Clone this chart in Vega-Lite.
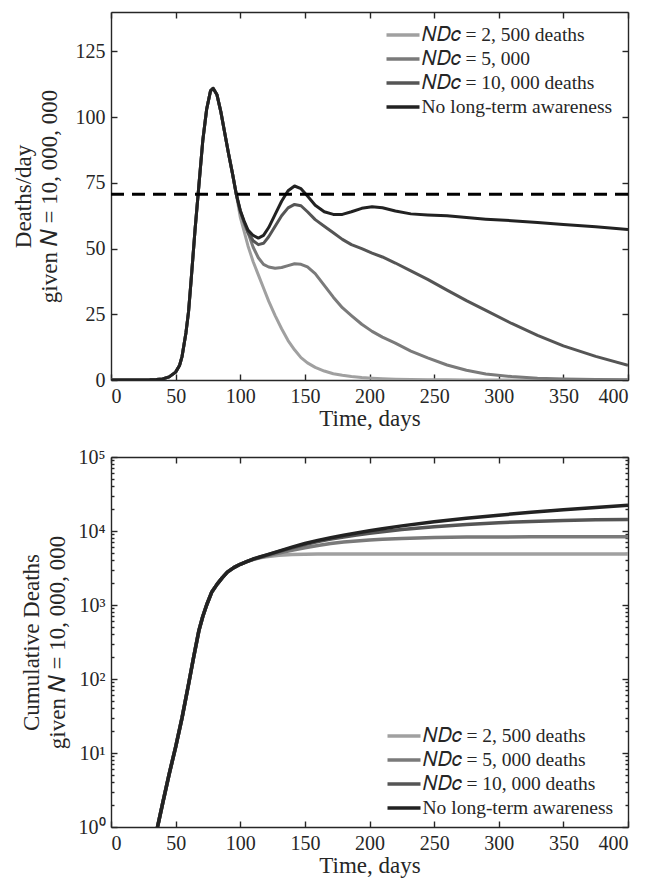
{
  "$schema": "https://vega.github.io/schema/vega-lite/v6.json",
  "background": "white",
  "padding": {"left": 12, "top": 11, "right": 4, "bottom": 5},
  "datasets": {
    "daily": [
      {"t":0,"a":0,"b":0,"c":0,"d":0},
      {"t":10,"a":0,"b":0,"c":0,"d":0},
      {"t":20,"a":0,"b":0,"c":0,"d":0},
      {"t":30,"a":0.05,"b":0.05,"c":0.05,"d":0.05},
      {"t":35,"a":0.15,"b":0.15,"c":0.15,"d":0.15},
      {"t":40,"a":0.4,"b":0.4,"c":0.4,"d":0.4},
      {"t":45,"a":1.2,"b":1.2,"c":1.2,"d":1.2},
      {"t":50,"a":3,"b":3,"c":3,"d":3},
      {"t":53,"a":5.5,"b":5.5,"c":5.5,"d":5.5},
      {"t":55,"a":9,"b":9,"c":9,"d":9},
      {"t":58,"a":18,"b":18,"c":18,"d":18},
      {"t":60,"a":26,"b":26,"c":26,"d":26},
      {"t":62,"a":38,"b":38,"c":38,"d":38},
      {"t":65,"a":57,"b":57,"c":57,"d":57},
      {"t":68,"a":74,"b":74,"c":74,"d":74},
      {"t":71,"a":91,"b":91,"c":91,"d":91},
      {"t":74,"a":103,"b":103,"c":103,"d":103},
      {"t":77,"a":110,"b":110,"c":110,"d":110},
      {"t":79,"a":111,"b":111,"c":111,"d":111},
      {"t":82,"a":108.5,"b":108.5,"c":108.5,"d":108.5},
      {"t":85,"a":102,"b":102,"c":102,"d":102},
      {"t":88,"a":94,"b":94,"c":94,"d":94},
      {"t":91,"a":86,"b":86,"c":86,"d":86},
      {"t":94,"a":78.5,"b":78.5,"c":78.5,"d":78.5},
      {"t":97,"a":70.5,"b":70.5,"c":70.5,"d":70.5},
      {"t":100,"a":62,"b":64,"c":64.5,"d":64.5},
      {"t":103,"a":56.5,"b":60,"c":60,"d":60.5},
      {"t":106,"a":51,"b":56,"c":56,"d":57},
      {"t":110,"a":45,"b":50.5,"c":53,"d":55},
      {"t":114,"a":40,"b":46.5,"c":51.5,"d":54},
      {"t":118,"a":35,"b":44,"c":52,"d":55},
      {"t":122,"a":30,"b":43,"c":54.5,"d":58},
      {"t":127,"a":24.5,"b":42.5,"c":58.5,"d":63},
      {"t":132,"a":19.5,"b":42.8,"c":62.5,"d":68},
      {"t":137,"a":15,"b":43.5,"c":65.5,"d":72},
      {"t":142,"a":11.5,"b":44.2,"c":66.8,"d":73.8},
      {"t":147,"a":8.5,"b":44,"c":66.3,"d":72.8},
      {"t":152,"a":6.5,"b":43,"c":64,"d":70},
      {"t":158,"a":4.8,"b":40.5,"c":61,"d":66.5},
      {"t":165,"a":3.4,"b":36,"c":58.5,"d":64},
      {"t":172,"a":2.4,"b":31.5,"c":56,"d":63},
      {"t":179,"a":1.8,"b":27.5,"c":53.5,"d":63},
      {"t":186,"a":1.3,"b":24.5,"c":51.5,"d":64},
      {"t":194,"a":0.95,"b":21.2,"c":50,"d":65.3},
      {"t":202,"a":0.7,"b":18.5,"c":48.3,"d":65.9},
      {"t":210,"a":0.5,"b":16.3,"c":46.8,"d":65.5},
      {"t":220,"a":0.3,"b":14,"c":44.5,"d":64.3},
      {"t":232,"a":0.18,"b":11,"c":41.5,"d":63.2},
      {"t":245,"a":0.1,"b":8.4,"c":38.3,"d":62.8},
      {"t":260,"a":0.05,"b":5.7,"c":34.2,"d":62.5},
      {"t":275,"a":0.03,"b":3.7,"c":30.2,"d":61.8},
      {"t":290,"a":0.02,"b":2.3,"c":26.5,"d":61.2},
      {"t":310,"a":0.01,"b":1.3,"c":21.5,"d":60.6},
      {"t":330,"a":0,"b":0.7,"c":17,"d":59.9},
      {"t":350,"a":0,"b":0.35,"c":13,"d":59.2},
      {"t":375,"a":0,"b":0.15,"c":9,"d":58.3},
      {"t":400,"a":0,"b":0.05,"c":5.6,"d":57.3}
    ],
    "cum": [
      {"t":34,"a":0.7,"b":0.7,"c":0.7,"d":0.7},
      {"t":36,"a":1,"b":1,"c":1,"d":1},
      {"t":40,"a":2.1,"b":2.1,"c":2.1,"d":2.1},
      {"t":45,"a":5.2,"b":5.2,"c":5.2,"d":5.2},
      {"t":50,"a":12,"b":12,"c":12,"d":12},
      {"t":55,"a":30,"b":30,"c":30,"d":30},
      {"t":60,"a":85,"b":85,"c":85,"d":85},
      {"t":64,"a":200,"b":200,"c":200,"d":200},
      {"t":68,"a":450,"b":450,"c":450,"d":450},
      {"t":71,"a":700,"b":700,"c":700,"d":700},
      {"t":74,"a":1000,"b":1000,"c":1000,"d":1000},
      {"t":78,"a":1500,"b":1500,"c":1500,"d":1500},
      {"t":82,"a":1900,"b":1900,"c":1900,"d":1900},
      {"t":86,"a":2330,"b":2330,"c":2330,"d":2330},
      {"t":90,"a":2780,"b":2780,"c":2780,"d":2780},
      {"t":95,"a":3200,"b":3200,"c":3200,"d":3200},
      {"t":100,"a":3550,"b":3550,"c":3550,"d":3550},
      {"t":105,"a":3850,"b":3850,"c":3850,"d":3850},
      {"t":110,"a":4100,"b":4150,"c":4170,"d":4180},
      {"t":115,"a":4330,"b":4380,"c":4420,"d":4450},
      {"t":120,"a":4500,"b":4600,"c":4700,"d":4730},
      {"t":130,"a":4700,"b":5050,"c":5280,"d":5350},
      {"t":140,"a":4810,"b":5500,"c":5920,"d":6050},
      {"t":150,"a":4860,"b":5950,"c":6580,"d":6780},
      {"t":160,"a":4885,"b":6380,"c":7200,"d":7470},
      {"t":170,"a":4895,"b":6760,"c":7780,"d":8120},
      {"t":180,"a":4900,"b":7080,"c":8310,"d":8760},
      {"t":190,"a":4900,"b":7330,"c":8810,"d":9420},
      {"t":200,"a":4900,"b":7550,"c":9300,"d":10100},
      {"t":210,"a":4900,"b":7730,"c":9770,"d":10750},
      {"t":225,"a":4900,"b":7940,"c":10450,"d":11730},
      {"t":250,"a":4900,"b":8160,"c":11450,"d":13300},
      {"t":275,"a":4900,"b":8270,"c":12280,"d":14850},
      {"t":300,"a":4900,"b":8320,"c":12950,"d":16380},
      {"t":325,"a":4900,"b":8340,"c":13480,"d":17880},
      {"t":350,"a":4900,"b":8350,"c":13880,"d":19370},
      {"t":375,"a":4900,"b":8350,"c":14150,"d":20830},
      {"t":400,"a":4900,"b":8350,"c":14350,"d":22200}
    ],
    "thr": [{"threshold": 70.7}],
    "logticks": [
      {"v":1},{"v":2},{"v":3},{"v":4},{"v":5},{"v":6},{"v":7},{"v":8},{"v":9},
      {"v":10},{"v":20},{"v":30},{"v":40},{"v":50},{"v":60},{"v":70},{"v":80},{"v":90},
      {"v":100},{"v":200},{"v":300},{"v":400},{"v":500},{"v":600},{"v":700},{"v":800},{"v":900},
      {"v":1000},{"v":2000},{"v":3000},{"v":4000},{"v":5000},{"v":6000},{"v":7000},{"v":8000},{"v":9000},
      {"v":10000},{"v":20000},{"v":30000},{"v":40000},{"v":50000},{"v":60000},{"v":70000},{"v":80000},{"v":90000},
      {"v":100000}
    ]
  },
  "config": {
    "font": "Liberation Serif",
    "view": {"stroke": null},
    "style": {"guide-label": {"font": "Liberation Serif"}, "guide-title": {"font": "Liberation Serif"}},
    "axis": {
      "domainColor": "#262626", "domainWidth": 1.4,
      "tickColor": "#262626", "tickWidth": 1.4, "tickSize": -6,
      "labelFont": "Liberation Serif", "labelFontSize": 20, "labelColor": "#262626", "labelPadding": 12,
      "titleFont": "Liberation Serif", "titleFontSize": 23, "titleFontWeight": "normal", "titleColor": "#262626",
      "grid": false
    },
    "legend": {
      "labelFont": "Liberation Serif", "labelFontSize": 19.5, "labelColor": "#262626", "labelLimit": 0,
      "symbolType": "M-1.65,0L1.65,0",
      "symbolSize": 400, "symbolStrokeWidth": 3.5, "rowPadding": 2, "padding": 0,
      "labelOffset": 6.5, "titlePadding": 0
    },
    "concat": {"spacing": 17}
  },
  "resolve": {"scale": {"color": "independent"}, "legend": {"color": "independent"}},
  "vconcat": [
    {
      "width": 517, "height": 368,
      "layer": [
        {
          "data": {"name": "daily"},
          "transform": [{"fold": ["a", "b", "c", "d"], "as": ["series", "v"]}],
          "mark": {"type": "line", "strokeWidth": 3, "strokeJoin": "round", "clip": true},
          "encoding": {
            "x": {"field": "t", "type": "quantitative", "scale": {"domain": [0, 400], "nice": false},
                  "axis": {"values": [0,50,100,150,200,250,300,350,400], "title": "Time, days", "titlePadding": 1}},
            "y": {"field": "v", "type": "quantitative", "scale": {"domain": [0, 140], "nice": false},
                  "axis": {"values": [0,25,50,75,100,125], "title": ["Deaths/day", "given 𝑁 = 10, 000, 000"], "titleLineHeight": 26, "titlePadding": 14}},
            "color": {"field": "series", "type": "nominal",
                      "scale": {"domain": ["a", "b", "c", "d"], "range": ["#a0a0a0", "#7a7a7a", "#555555", "#222222"]},
                      "legend": {"title": null, "orient": "none", "legendX": 280, "legendY": 11,
                                 "labelExpr": "datum.value == 'a' ? '𝑁𝐷𝑐 = 2, 500 deaths' : datum.value == 'b' ? '𝑁𝐷𝑐 = 5, 000' : datum.value == 'c' ? '𝑁𝐷𝑐 = 10, 000 deaths' : 'No long-term awareness'"}}
          }
        },
        {
          "data": {"name": "thr"},
          "mark": {"type": "rule", "strokeDash": [13, 8], "strokeWidth": 3, "color": "#000000"},
          "encoding": {"y": {"field": "threshold", "type": "quantitative", "axis": null}}
        },
        {
          "data": {"name": "daily"},
          "mark": {"type": "point", "opacity": 0},
          "encoding": {
            "x": {"field": "t", "type": "quantitative", "axis": {"orient": "top", "values": [0,50,100,150,200,250,300,350,400], "labels": false, "title": null}},
            "y": {"field": "a", "type": "quantitative", "axis": {"orient": "right", "values": [0,25,50,75,100,125], "labels": false, "title": null}}
          }
        }
      ],
      "resolve": {"axis": {"x": "independent", "y": "independent"}}
    },
    {
      "width": 517, "height": 370,
      "layer": [
        {
          "data": {"name": "cum"},
          "transform": [{"fold": ["a", "b", "c", "d"], "as": ["series", "v"]}],
          "mark": {"type": "line", "strokeWidth": 3.5, "strokeJoin": "round", "clip": true},
          "encoding": {
            "x": {"field": "t", "type": "quantitative", "scale": {"domain": [0, 400], "nice": false},
                  "axis": {"values": [0,50,100,150,200,250,300,350,400], "title": "Time, days", "titlePadding": 1}},
            "y": {"field": "v", "type": "quantitative", "scale": {"type": "log", "domain": [1, 100000], "nice": false},
                  "axis": {"values": [1,2,3,4,5,6,7,8,9,10,20,30,40,50,60,70,80,90,100,200,300,400,500,600,700,800,900,1000,2000,3000,4000,5000,6000,7000,8000,9000,10000,20000,30000,40000,50000,60000,70000,80000,90000,100000],
                           "labelExpr": "abs(log(datum.value)/LN10 - round(log(datum.value)/LN10)) < 0.001 ? '10' + ['⁰','¹','²','³','⁴','⁵'][round(log(datum.value)/LN10)] : ''",
                           "tickSize": {"condition": {"test": "abs(log(datum.value)/LN10 - round(log(datum.value)/LN10)) < 0.001", "value": -6}, "value": -3},
                           "title": ["Cumulative Deaths", "given 𝑁 = 10, 000, 000"], "titleLineHeight": 26, "titlePadding": 9}},
            "color": {"field": "series", "type": "nominal",
                      "scale": {"domain": ["a", "b", "c", "d"], "range": ["#a0a0a0", "#7a7a7a", "#555555", "#222222"]},
                      "legend": {"title": null, "orient": "none", "legendX": 281, "legendY": 267,
                                 "labelExpr": "datum.value == 'a' ? '𝑁𝐷𝑐 = 2, 500 deaths' : datum.value == 'b' ? '𝑁𝐷𝑐 = 5, 000 deaths' : datum.value == 'c' ? '𝑁𝐷𝑐 = 10, 000 deaths' : 'No long-term awareness'"}}
          }
        },
        {
          "data": {"name": "logticks"},
          "mark": {"type": "point", "opacity": 0},
          "encoding": {
            "x": {"datum": 0, "type": "quantitative", "axis": {"orient": "top", "values": [0,50,100,150,200,250,300,350,400], "labels": false, "title": null}},
            "y": {"field": "v", "type": "quantitative",
                  "axis": {"orient": "right", "values": [1,2,3,4,5,6,7,8,9,10,20,30,40,50,60,70,80,90,100,200,300,400,500,600,700,800,900,1000,2000,3000,4000,5000,6000,7000,8000,9000,10000,20000,30000,40000,50000,60000,70000,80000,90000,100000],
                           "labels": false, "title": null,
                           "tickSize": {"condition": {"test": "abs(log(datum.value)/LN10 - round(log(datum.value)/LN10)) < 0.001", "value": -6}, "value": -3}}}
          }
        }
      ],
      "resolve": {"axis": {"x": "independent", "y": "independent"}}
    }
  ]
}
